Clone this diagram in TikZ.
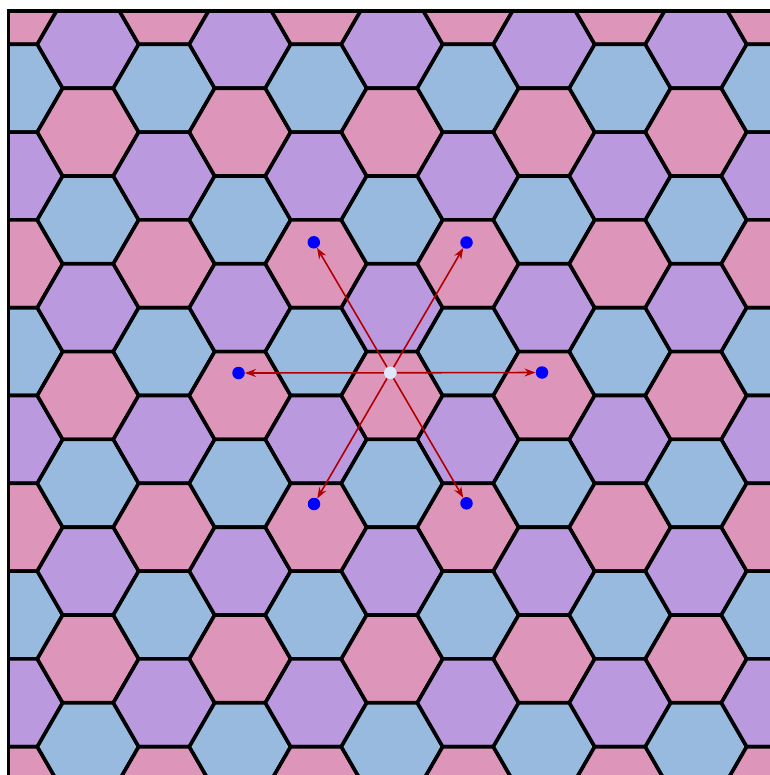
\documentclass[tikz,border=0pt]{standalone}
\usetikzlibrary{arrows.meta}
\definecolor{hpink}{RGB}{221,150,185}
\definecolor{hpurple}{RGB}{186,153,222}
\definecolor{hblue}{RGB}{152,186,222}
\definecolor{arrred}{RGB}{176,0,0}
\definecolor{centerfill}{RGB}{222,234,250}
\pgfdeclarelayer{tiles}
\pgfdeclarelayer{links}
\pgfsetlayers{tiles,links,main}
\begin{document}
\begin{tikzpicture}[x=1pt,y=-1pt,
  hexcell/.style={draw=black,line width=3.6pt,line join=miter},
  site/.style={circle,fill=blue,inner sep=0pt,minimum size=12.5pt},
  origin/.style={circle,fill=centerfill,inner sep=0pt,minimum size=12.5pt},
  hop/.style={draw=arrred,line width=1.6pt,-{Stealth[length=11pt,width=8pt]}},
  frame/.style={draw=black,line width=3.2pt}]
\useasboundingbox (0,0) rectangle (769,775);
\begin{pgfonlayer}{tiles}
\begin{scope}
\clip (8.5,11) rectangle (800,800);
\foreach \i in {0,...,10}{
  \foreach \j in {-1,...,9}{
    \pgfmathsetmacro{\cx}{12+76*\i}
    \pgfmathsetmacro{\cy}{isodd(\i) ? 44.3+87.8*\j : 0.4+87.8*\j}
    \pgfmathtruncatemacro{\idx}{mod(\j+2*isodd(\i)+3,3)}
    \pgfmathsetmacro{\hc}{{"hpink","hblue","hpurple"}[\idx]}
    \path[hexcell,fill=\hc] (\cx+50.67,\cy) -- (\cx+25.33,\cy+43.88) -- (\cx-25.33,\cy+43.88)
      -- (\cx-50.67,\cy) -- (\cx-25.33,\cy-43.88) -- (\cx+25.33,\cy-43.88) -- cycle;
  }
}
\end{scope}
\draw[frame] (8.5,800) -- (8.5,11) -- (800,11);
\end{pgfonlayer}
\node[origin] (o) at (390.3,372.8) {};
\node[site] (e) at (542,372.5) {};
\node[site] (ne) at (466.5,242.5) {};
\node[site] (nw) at (313.8,242.3) {};
\node[site] (w) at (238.5,373) {};
\node[site] (sw) at (314,504) {};
\node[site] (se) at (466.5,503.3) {};
\begin{pgfonlayer}{links}
\foreach \t in {e,ne,nw,w,sw,se}{
  \draw[hop] (o) -- (\t);
}
\end{pgfonlayer}
\end{tikzpicture}
\end{document}
